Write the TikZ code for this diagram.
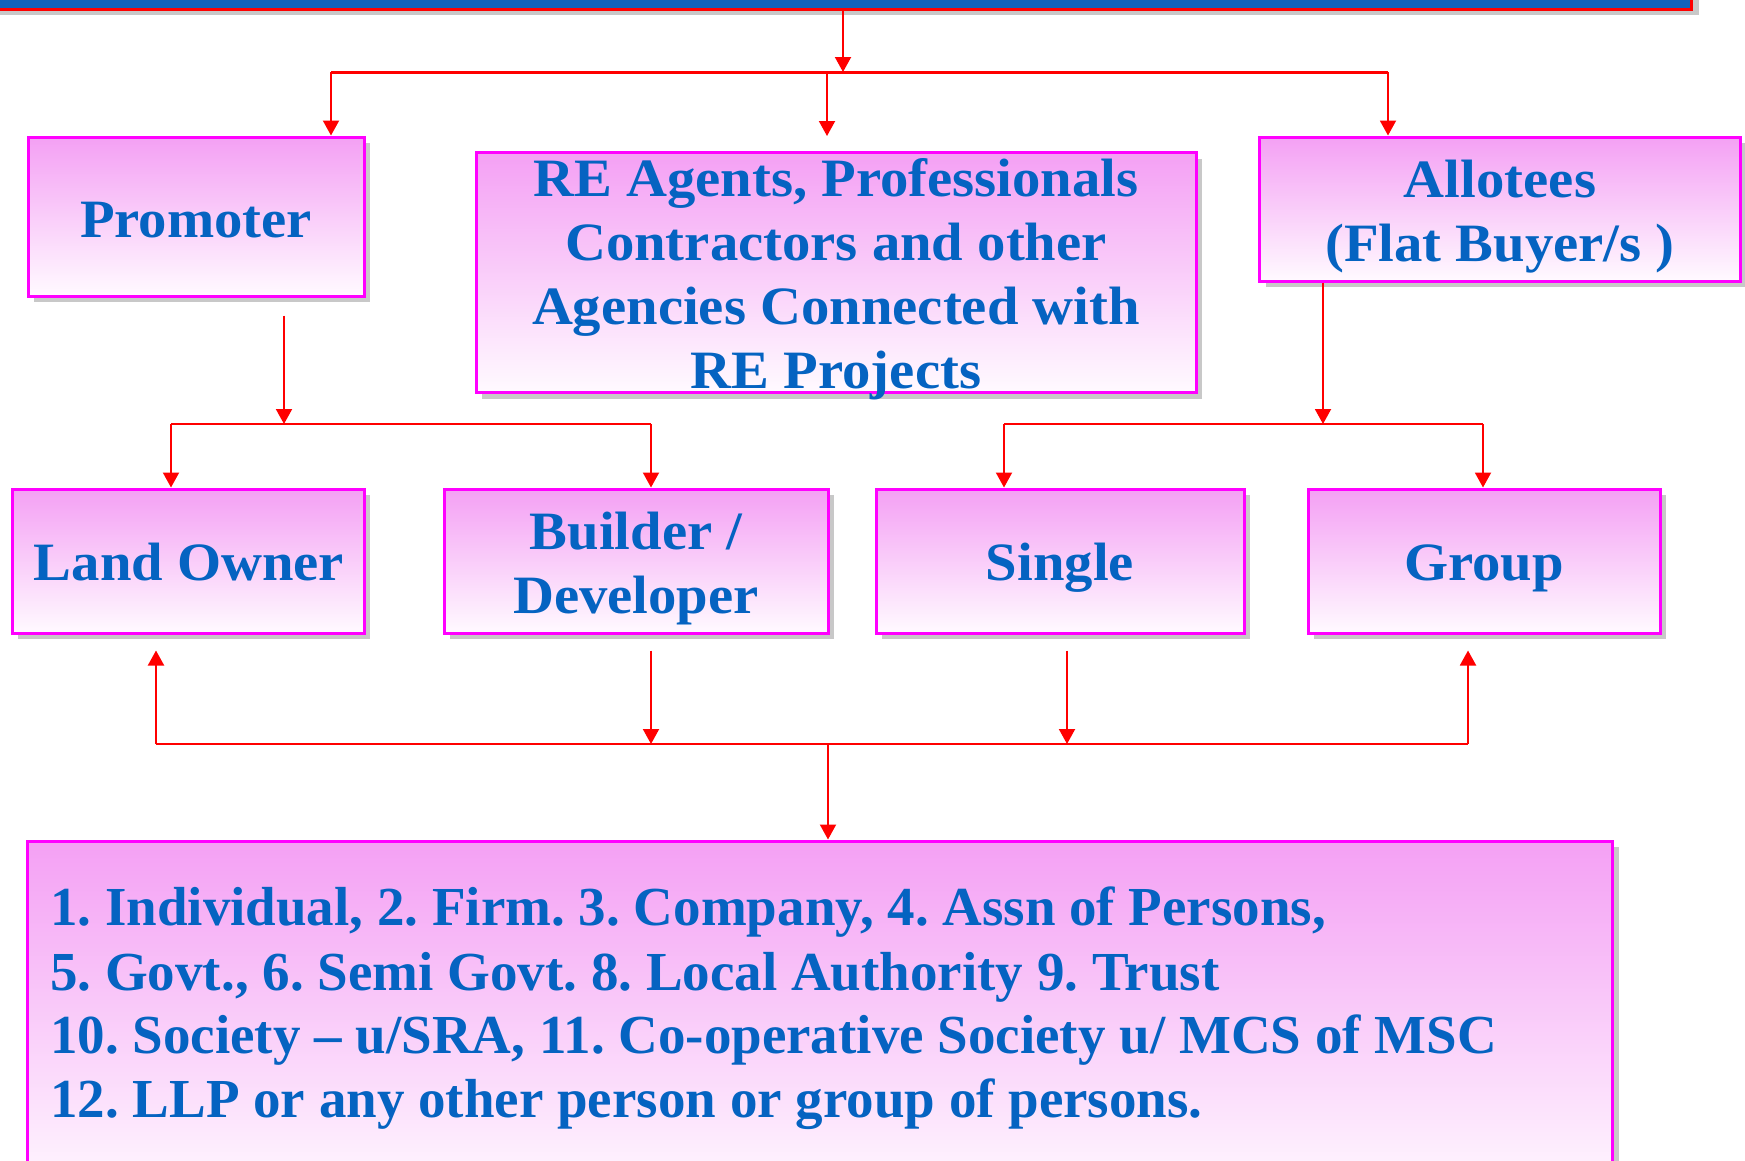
\documentclass[tikz,border=0pt]{standalone}
\usepackage{fontspec}
\setmainfont{Liberation Serif}
\newfontfamily\boxfont{Liberation Serif}[FakeStretch=1.05]
\usetikzlibrary{arrows.meta,shadows}
\definecolor{txtblue}{RGB}{5,99,193}
\definecolor{pinktop}{RGB}{244,160,244}
\definecolor{pinkbot}{RGB}{255,250,255}
\definecolor{barblue}{RGB}{17,98,187}
\definecolor{shadowgray}{RGB}{200,200,200}
\definecolor{linkred}{RGB}{255,0,0}
\definecolor{boxedge}{RGB}{255,0,255}
\tikzset{
  box/.style={draw=boxedge, line width=3pt, top color=pinktop, bottom color=pinkbot,
    inner sep=0pt, drop shadow={shadow xshift=6pt, shadow yshift=-6pt, fill=shadowgray, opacity=1}},
  lbl/.style={text=txtblue, font=\boxfont\fontsize{54}{64}\selectfont\bfseries, align=center, inner sep=0pt, anchor=base},
  lline/.style={text=txtblue, font=\fontsize{55}{64}\selectfont\bfseries\frenchspacing, inner sep=0pt, anchor=base west},
  conn/.style={draw=linkred, line width=2pt},
  arr/.style={conn, -{Triangle[width=16pt,length=15pt]}},
}
\begin{document}
\begin{tikzpicture}[x=1pt,y=-1pt]
\useasboundingbox (0,0) rectangle (1745,1160);
\clip (0,0) rectangle (1745,1160);
% top bar
\fill[shadowgray] (-20,-60) rectangle (1699,15);
\node[draw=linkred, fill=barblue, line width=3pt, minimum width=1711pt, minimum height=69pt, inner sep=0pt] (bar) at (835.5,-25.5) {};
% boxes
\node[box, minimum width=336pt, minimum height=159pt] (promoter) at (196,216.5) {};
\node[box, minimum width=720pt, minimum height=240pt] (agents) at (836,272.5) {};
\node[box, minimum width=481pt, minimum height=144pt] (allotees) at (1500,209) {};
\node[box, minimum width=352pt, minimum height=144pt] (land) at (188,561) {};
\node[box, minimum width=384pt, minimum height=144pt] (builder) at (636,561) {};
\node[box, minimum width=368pt, minimum height=144pt] (single) at (1060,561) {};
\node[box, minimum width=352pt, minimum height=144pt] (group) at (1484,561) {};
\node[box, minimum width=1585pt, minimum height=360pt] (list) at (820,1021) {};
% texts (base anchor of a multi-line node = baseline of its last line)
\node[lbl] (tpromoter) at (196,237) {Promoter};
\node[lbl] (tagents) at (836,388) {RE Agents, Professionals\\Contractors and other\\Agencies Connected with\\RE Projects};
\node[lbl] (tallotees) at (1500,261) {Allotees\\(Flat Buyer/s )};
\node[lbl] (tland) at (189,580) {Land Owner};
\node[lbl] (tbuilder) at (636,613) {Builder /\hspace{14pt}\\Developer};
\node[lbl] (tsingle) at (1060,580) {Single};
\node[lbl] (tgroup) at (1484,580) {Group};
\node[lline] (l1) at (50,925) {1. Individual, 2. Firm. 3. Company, 4. Assn of Persons,};
\node[lline] (l2) at (50,990) {5. Govt., 6. Semi Govt. 8. Local Authority 9. Trust};
\node[lline] (l3) at (50,1053) {10. Society -- u/SRA, 11. Co-operative Society u/ MCS of MSC};
\node[lline] (l4) at (50,1117) {12. LLP or any other person or group of persons.};
% junction coordinates
\coordinate (jtop) at (843,72);
\coordinate (jtl) at (331,72);
\coordinate (jtm) at (827,72);
\coordinate (jtr) at (1388,72);
\coordinate (jpl) at (171,424);
\coordinate (jpm) at (284,424);
\coordinate (jpr) at (651,424);
\coordinate (jal) at (1004,424);
\coordinate (jam) at (1323,424);
\coordinate (jar) at (1483,424);
\coordinate (jb1) at (156,744);
\coordinate (jb2) at (651,744);
\coordinate (jbm) at (828,744);
\coordinate (jb3) at (1067,744);
\coordinate (jb4) at (1468,744);
% top connectors
\draw[arr] (bar.south -| jtop) -- (jtop);
\draw[conn, line width=3pt] (jtl) -- (jtr);
\draw[arr] (jtl) -- (jtl |- promoter.north);
\draw[arr, shorten >=15pt] (jtm) -- (jtm |- agents.north);
\draw[arr] (jtr) -- (jtr |- allotees.north);
% promoter branch
\draw[arr, shorten <=18pt] (promoter.south -| jpm) -- (jpm);
\draw[conn] (jpl) -- (jpr);
\draw[arr] (jpl) -- (jpl |- land.north);
\draw[arr] (jpr) -- (jpr |- builder.north);
% allotees branch
\draw[arr] (allotees.south -| jam) -- (jam);
\draw[conn] (jal) -- (jar);
\draw[arr] (jal) -- (jal |- single.north);
\draw[arr] (jar) -- (jar |- group.north);
% bottom connectors
\draw[conn] (jb1) -- (jb4);
\draw[arr, shorten >=16pt] (jb1) -- (jb1 |- land.south);
\draw[arr, shorten <=16pt] (builder.south -| jb2) -- (jb2);
\draw[arr, shorten <=16pt] (single.south -| jb3) -- (jb3);
\draw[arr, shorten >=16pt] (jb4) -- (jb4 |- group.south);
\draw[arr] (jbm) -- (list.north -| jbm);
\end{tikzpicture}
\end{document}
